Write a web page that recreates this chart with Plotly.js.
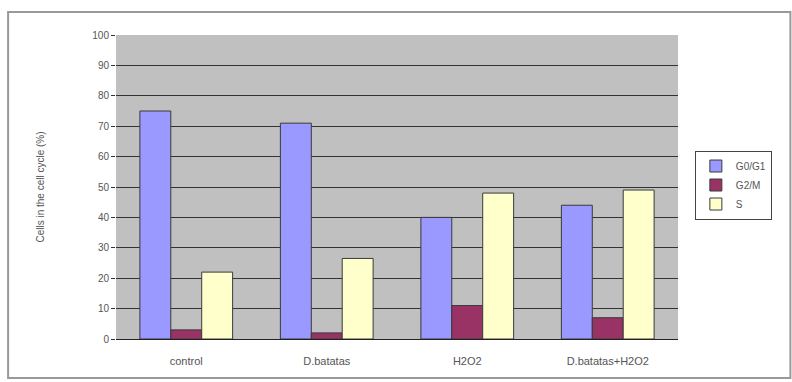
<!DOCTYPE html>
<html>
<head>
<meta charset="utf-8">
<script src="https://cdn.plot.ly/plotly-3.0.1.min.js"></script>
<style>html,body{margin:0;padding:0;background:#fff;}#chart{width:792px;height:382px;}</style>
</head>
<body>
<div id="chart"></div>
<script>
const categories = ["control", "D.batatas", "H2O2", "D.batatas+H2O2"];
const seriesNames = ["G0/G1", "G2/M", "S"];
const g0g1 = [75, 71, 40, 44];
const g2m = [3, 2, 11, 7];
const sPhase = [22, 26.5, 48, 49];
const yTicks = [0, 10, 20, 30, 40, 50, 60, 70, 80, 90, 100];

const colors = ["#9999FF", "#993366", "#FFFFCC"];
const values = [g0g1, g2m, sPhase];

const traces = values.map((v, i) => ({
  type: "bar",
  name: seriesNames[i],
  x: categories,
  y: v,
  marker: {color: colors[i], line: {color: "#3a3a3a", width: 1}},
  hoverinfo: "none"
}));

const layout = {
  width: 792, height: 382,
  margin: {l: 116, r: 114, t: 35, b: 43},
  paper_bgcolor: "#ffffff",
  plot_bgcolor: "#C0C0C0",
  barmode: "group",
  bargap: 0.34,
  bargroupgap: 0,
  font: {family: "Liberation Sans, Arial, sans-serif", size: 10, color: "#555"},
  showlegend: true,
  legend: {
    x: 1.03, xanchor: "left", y: 0.62, yanchor: "top",
    bordercolor: "#444", borderwidth: 1, bgcolor: "#fff",
    font: {size: 10, color: "#555"},
    itemwidth: 30,
    tracegroupgap: 0
  },
  xaxis: {
    type: "category",
    showgrid: false,
    showline: true, linecolor: "#222", linewidth: 1,
    ticks: "", tickfont: {size: 11, color: "#555"},
    ticklabelstandoff: 12,
    fixedrange: true
  },
  yaxis: {
    range: [0, 100],
    tickvals: yTicks,
    ticktext: yTicks.map(String),
    showgrid: true, gridcolor: "#333", gridwidth: 1,
    zeroline: false,
    showline: false,
    ticks: "outside", ticklen: 4, tickcolor: "#333",
    tickfont: {size: 10, color: "#555"},
    title: {text: "Cells in the cell cycle (%)", font: {size: 10, color: "#555"}, standoff: 45},
    automargin: false,
    fixedrange: true
  },
  shapes: [{
    type: "rect", xref: "paper", yref: "paper",
    x0: -0.192, x1: 1.2, y0: -0.128, y1: 1.076,
    line: {color: "#999", width: 2}, fillcolor: "rgba(0,0,0,0)", layer: "below"
  }]
};

Plotly.newPlot("chart", traces, layout, {staticPlot: true});
</script>
</body>
</html>
